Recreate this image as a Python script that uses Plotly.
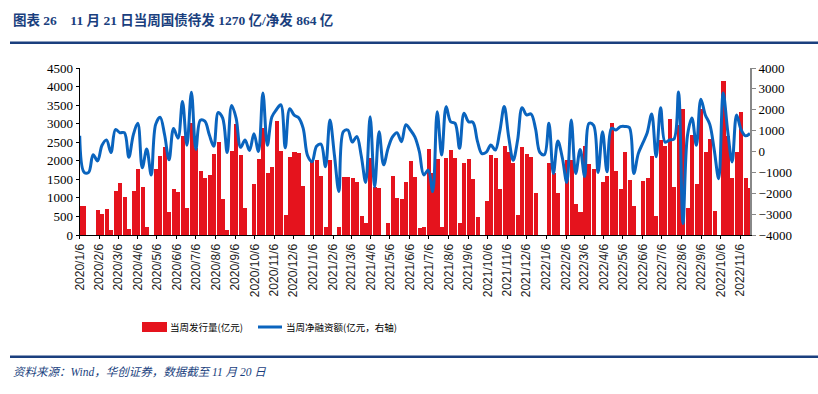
import plotly.graph_objects as go
import pandas as pd

# ---------------- data ----------------
week_start = "2020-01-06"
n_weeks = 151

issuance = [
    780, 780, 0, 0, 665, 570, 700, 140, 1185, 1400,
    1024, 165, 1185, 1778, 1293, 215, 0, 1778, 2128, 2370,
    625, 1240, 1158, 2667, 727, 3017, 2350, 1724, 1535, 1616,
    2182, 2505, 970, 140, 2263, 2990, 2155, 727, 0, 1374,
    2047, 2883, 1670, 1832, 3071, 2263, 539, 2101, 2236, 2209,
    1320, 0, 2020, 2020, 1590, 215, 2020, 0, 215, 1568,
    1568, 1541, 1432, 514, 324, 2081, 1290, 1260, 0, 324,
    1595, 1000, 973, 1432, 2000, 1568, 189, 216, 2320, 1676,
    2050, 216, 2080, 2295, 2080, 324, 1945, 2050, 1514, 486,
    0, 918, 2160, 2080, 1243, 2403, 2240, 1945, 540, 2375,
    2185, 2105, 1133, 0, 0, 1942, 1672, 1133, 0, 2022,
    2022, 836, 620, 2400, 1915, 1780, 0, 1430, 1590, 3017,
    1724, 1239, 2236, 1482, 781, 0, 1455, 1535, 2128, 512,
    2550, 2400, 3125, 1293, 2963, 3394, 727, 2694, 1374, 3394,
    2236, 2586, 647, 0, 4149, 2667, 1535, 2236, 3314, 1535,
    1270,
]

net_financing = [
    750, -1000, -1000, -150, -450, 300, 550, -50, 1050, 900,
    900, -270, 800, 1350, -780, 120, -1120, 1300, 1640, 800,
    -400, 1100, 640, 2400, 300, 2840, 100, 1500, 1450, 800,
    250, 1870, 1600, -50, 2200, 1600, 200, 550, 50, 850,
    0, 2800, 300, 1650, 2000, 2240, 180, 2050, 1740, 1620,
    1120, -200, -490, 250, 350, -730, 1510, -170, -1920, 950,
    1030, 450, 720, -200, -1480, 1670, -1690, 950, -640, 150,
    700, 900, 470, 1280, 1030, 700, 0, -1120, -890, -1920,
    1900, -170, 2150, 1430, 1350, 150, 1830, 1430, 1400, 500,
    -100, -30, 310, 70, 950, 2150, 700, -420, 550, 2100,
    1750, 1800, 1100, -50, -150, 1350, -1050, 500, -300, -1480,
    1510, -1050, 100, -1200, 1350, 1250, -1000, 950, -970, 1110,
    1030, 1190, 1200, 1150, -1050, -100, 400, 900, 1800, -250,
    2100, 450, 550, 600, 2850, -3450, 750, 1600, 300, 2500,
    1750, 1300, 70, -1300, 2800, 1000, -500, 1750, 1050, 750,
    864,
]

left_ticks = list(range(0, 4501, 500))
right_ticks = list(range(-4000, 4001, 1000))

title_text = "图表 26\u00a0\u00a0\u00a0 11 月 21 日当周国债待发 1270 亿/净发 864 亿"
source_text = "资料来源：Wind，华创证券，数据截至 11 月 20 日"
bar_name = "当周发行量(亿元)"
line_name = "当周净融资额(亿元，右轴)"

# ---------------- build ----------------
dates = pd.date_range(week_start, periods=n_weeks, freq="7D")
tick_dates = pd.date_range("2020-01-01", "2022-11-01", freq="MS") + pd.Timedelta(days=5)
tick_text = [f"{d.year}/{d.month}/{d.day}" for d in tick_dates]

W, H = 818, 394
px_x = lambda v: v / W
px_y = lambda v: 1 - v / H

RED = "#E5131D"
BLUE = "#0A64BE"
NAVY = "#1A3F7E"

fig = go.Figure()
fig.add_trace(go.Bar(
    x=dates, y=issuance, name=bar_name,
    marker=dict(color=RED, line=dict(width=0)),
    width=6.3 * 86400000, yaxis="y",
))
fig.add_trace(go.Scatter(
    x=dates, y=net_financing, name=line_name, yaxis="y2", mode="lines",
    line=dict(color=BLUE, width=3, shape="spline", smoothing=1),
))

axis_font = dict(family="Liberation Serif, Times New Roman, serif", size=13, color="#000")

fig.update_layout(
    width=W, height=H,
    margin=dict(l=0, r=0, t=0, b=0, autoexpand=False),
    paper_bgcolor="white", plot_bgcolor="white",
    showlegend=False, bargap=0,
    xaxis=dict(
        domain=[px_x(79.7), px_x(750)], type="date", automargin=False,
        range=[dates[0], dates[-1]],
        tickmode="array", tickvals=tick_dates, ticktext=tick_text,
        tickangle=-90, ticks="outside", ticklen=3, tickcolor="#000",
        showline=True, linecolor="#000", linewidth=1.2,
        showgrid=False, zeroline=False,
        tickfont=dict(family="Liberation Sans, Arial, sans-serif", size=12, color="#222"),
    ),
    yaxis=dict(
        domain=[px_y(235), px_y(68)], range=[0, 4500], automargin=False,
        tickmode="array", tickvals=left_ticks,
        ticks="outside", ticklen=3, tickcolor="#000",
        showline=True, linecolor="#000", linewidth=1.2,
        showgrid=False, zeroline=False, tickfont=axis_font,
    ),
    yaxis2=dict(
        overlaying="y", side="right", anchor="x", range=[-4000, 4000], automargin=False,
        tickmode="array", tickvals=right_ticks,
        ticks="outside", ticklen=4, tickcolor="#888",
        showline=True, linecolor="#888", linewidth=2,
        showgrid=False, zeroline=False, tickfont=axis_font,
    ),
)

shapes = [
    dict(type="line", xref="paper", yref="paper", x0=px_x(10), x1=1,
         y0=px_y(42.7), y1=px_y(42.7), line=dict(color=NAVY, width=2.5)),
    dict(type="line", xref="paper", yref="paper", x0=px_x(10), x1=1,
         y0=px_y(356.7), y1=px_y(356.7), line=dict(color=NAVY, width=2.5)),
    dict(type="rect", xref="paper", yref="paper", x0=px_x(142), x1=px_x(167),
         y0=px_y(332), y1=px_y(322), fillcolor=RED, line=dict(width=0)),
    dict(type="line", xref="paper", yref="paper", x0=px_x(258), x1=px_x(282),
         y0=px_y(327), y1=px_y(327), line=dict(color=BLUE, width=3)),
]
fig.update_layout(shapes=shapes)

cjk = "Liberation Serif, Noto Sans CJK SC, sans-serif"
legend_font = dict(family="Noto Sans CJK SC, sans-serif", size=9.5, color="#000")
annotations = [
    dict(text=f"<b>{title_text}</b>", x=px_x(11), y=px_y(20), xref="paper", yref="paper",
         xanchor="left", yanchor="middle", showarrow=False,
         font=dict(family=cjk, size=13.5, color=NAVY)),
    dict(text=f"<i>{source_text}</i>", x=px_x(11), y=px_y(372), xref="paper", yref="paper",
         xanchor="left", yanchor="middle", showarrow=False,
         font=dict(family=cjk, size=11.5, color=NAVY)),
    dict(text=bar_name, x=px_x(168), y=px_y(327), xref="paper", yref="paper",
         xanchor="left", yanchor="middle", showarrow=False, font=legend_font),
    dict(text=line_name, x=px_x(284), y=px_y(327), xref="paper", yref="paper",
         xanchor="left", yanchor="middle", showarrow=False, font=legend_font),
]
fig.update_layout(annotations=annotations)

fig.write_html(
    "out.html",
    config={"displayModeBar": False},
    post_script="document.body.style.margin='0';document.body.style.padding='0';",
)
